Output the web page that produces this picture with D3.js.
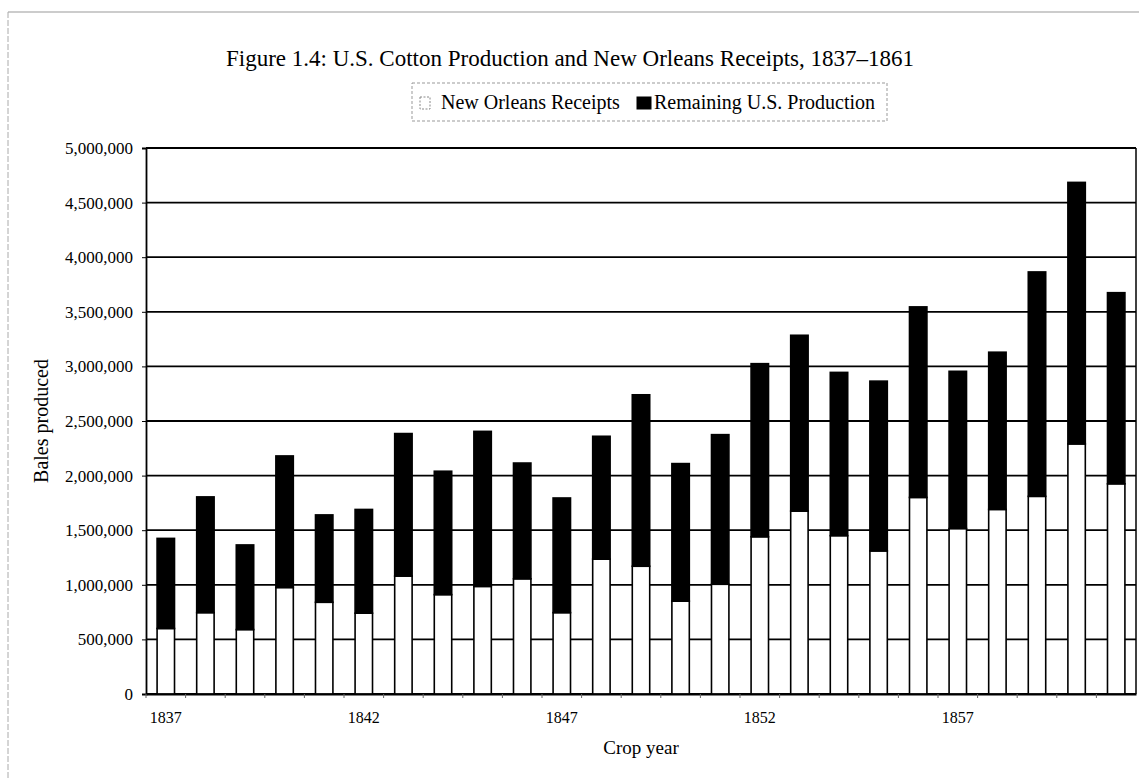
<!DOCTYPE html>
<html lang="en">
<head>
<meta charset="UTF-8">
<title>U.S. Cotton Production and New Orleans Receipts, 1837–1861</title>
<script src="https://d3js.org/d3.v7.min.js"></script>
<style>
  body { margin: 0; background: #fff; }
  svg { display: block; font-family: "Liberation Serif", "Times New Roman", serif; }
  .grid line { stroke: #000; stroke-width: 1.8; }
  .axis text { fill: #000; }
</style>
</head>
<body>
<svg id="chart"></svg>
<script>
// crop years
const years = d3.range(1837, 1862);

// bales received at New Orleans
const receipts = [
  600000, 745000, 590000, 975000, 840000, 740000, 1080000, 910000, 985000, 1055000,
  745000, 1235000, 1170000, 850000, 1005000, 1440000, 1675000, 1450000, 1310000, 1800000,
  1515000, 1690000, 1810000, 2290000, 1925000
];

// rest of U.S. production (stacked on top)
const remaining = [
  825000, 1060000, 775000, 1205000, 800000, 950000, 1305000, 1130000, 1420000, 1060000,
  1050000, 1125000, 1570000, 1260000, 1370000, 1585000, 1610000, 1495000, 1555000, 1745000,
  1440000, 1440000, 2055000, 2395000, 1750000
];

const yTicks = d3.range(0, 5000001, 500000);
const xTickYears = [1837, 1842, 1847, 1852, 1857];

const seriesKeys = ["receipts", "remaining"];
const seriesNames = ["New Orleans Receipts", "Remaining U.S. Production"];

const width = 1139, height = 778;
const plotLeft = 146, plotRight = 1136, plotTop = 148, plotBottom = 694;

const svg = d3.select("#chart").attr("width", width).attr("height", height);

// outer frame of the scanned page
svg.append("line").attr("x1", 8).attr("x2", width).attr("y1", 12).attr("y2", 12)
  .attr("stroke", "#999").attr("stroke-width", 1);
svg.append("line").attr("x1", 8).attr("x2", 8).attr("y1", 12).attr("y2", height)
  .attr("stroke", "#aaa").attr("stroke-width", 1).attr("stroke-dasharray", "6,2");

const rows = years.map((yr, i) => ({ year: yr, receipts: receipts[i], remaining: remaining[i] }));
const stacked = d3.stack().keys(seriesKeys)(rows);

const x = d3.scaleBand().domain(years).range([plotLeft, plotRight]).paddingInner(0.56).paddingOuter(0.28);
const y = d3.scaleLinear().domain([0, 5000000]).range([plotBottom, plotTop]);

// horizontal gridlines
svg.append("g").attr("class", "grid")
  .selectAll("line").data(yTicks).join("line")
  .attr("x1", plotLeft).attr("x2", plotRight)
  .attr("y1", d => y(d)).attr("y2", d => y(d));

// bars
const fills = { receipts: "#fff", remaining: "#000" };
svg.append("g").selectAll("g").data(stacked).join("g")
  .attr("fill", d => fills[d.key])
  .selectAll("rect").data(d => d).join("rect")
  .attr("x", d => x(d.data.year))
  .attr("width", x.bandwidth())
  .attr("y", d => y(d[1]))
  .attr("height", d => y(d[0]) - y(d[1]))
  .attr("stroke", "#000")
  .attr("stroke-width", 1.6);

// right edge of the plot
svg.append("line").attr("x1", plotRight).attr("x2", plotRight).attr("y1", plotTop).attr("y2", plotBottom)
  .attr("stroke", "#000").attr("stroke-width", 1.5);

// y axis
const yAxis = svg.append("g").attr("class", "axis")
  .attr("transform", `translate(${plotLeft},0)`)
  .call(d3.axisLeft(y).tickValues(yTicks).tickFormat(d3.format(",")).tickSize(4).tickPadding(9));
yAxis.select(".domain").attr("stroke", "#000").attr("stroke-width", 1.8);
yAxis.selectAll("text").attr("font-size", 17).attr("font-family", "Liberation Serif");

// x axis
const xAxis = svg.append("g").attr("class", "axis")
  .attr("transform", `translate(0,${plotBottom})`)
  .call(d3.axisBottom(x).tickValues(xTickYears).tickSize(0).tickPadding(18));
xAxis.select(".domain").attr("stroke", "#000").attr("stroke-width", 1.8);
xAxis.selectAll("text").attr("font-size", 16).attr("font-family", "Liberation Serif");

// small tick marks between categories
svg.append("g").selectAll("line").data(years).join("line")
  .attr("x1", d => x(d) - x.step() * x.paddingInner() / 2)
  .attr("x2", d => x(d) - x.step() * x.paddingInner() / 2)
  .attr("y1", plotBottom).attr("y2", plotBottom + 4)
  .attr("stroke", "#666").attr("stroke-width", 1);

// axis titles
svg.append("text")
  .attr("transform", `translate(48,${(plotTop + plotBottom) / 2}) rotate(-90)`)
  .attr("text-anchor", "middle").attr("font-size", 20)
  .text("Bales produced");

svg.append("text")
  .attr("x", (plotLeft + plotRight) / 2).attr("y", 754)
  .attr("text-anchor", "middle").attr("font-size", 19)
  .text("Crop year");

// title
svg.append("text")
  .attr("x", 570).attr("y", 66)
  .attr("text-anchor", "middle").attr("font-size", 23)
  .text("Figure 1.4: U.S. Cotton Production and New Orleans Receipts, 1837–1861");

// legend
const legend = svg.append("g");
legend.append("rect")
  .attr("x", 412).attr("y", 83).attr("width", 475).attr("height", 38)
  .attr("fill", "none").attr("stroke", "#999").attr("stroke-width", 1).attr("stroke-dasharray", "3,2");

const legendX = [420, 637];
legend.selectAll("g").data(seriesKeys).join("g")
  .each(function (k, i) {
    const g = d3.select(this);
    g.append("rect")
      .attr("x", legendX[i]).attr("y", 97).attr("width", i === 0 ? 10 : 14).attr("height", 12)
      .attr("fill", fills[k])
      .attr("stroke", i === 0 ? "#888" : "#000")
      .attr("stroke-dasharray", i === 0 ? "2,1.5" : null);
    g.append("text")
      .attr("x", legendX[i] + (i === 0 ? 21 : 17)).attr("y", 109)
      .attr("font-size", 20)
      .text(seriesNames[i]);
  });
</script>
</body>
</html>
